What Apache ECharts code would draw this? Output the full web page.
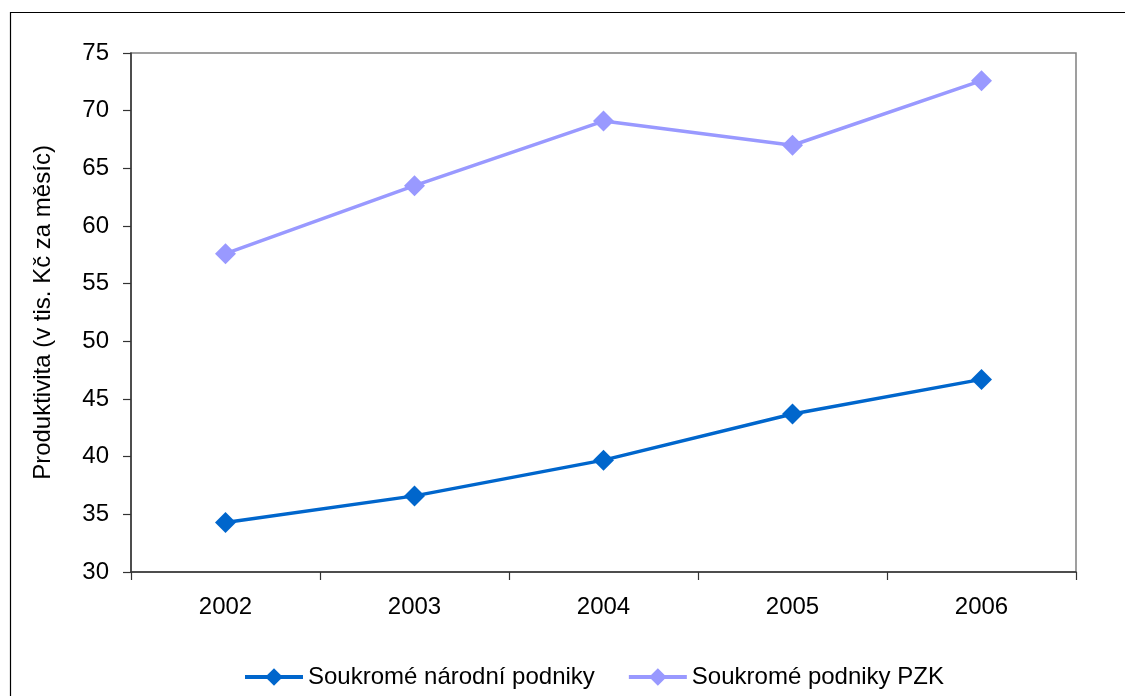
<!DOCTYPE html>
<html>
<head>
<meta charset="utf-8">
<script src="https://cdn.jsdelivr.net/npm/echarts@6/dist/echarts.min.js"></script>
<style>
  html, body { margin: 0; padding: 0; background: #fff; }
  #chart { width: 1125px; height: 696px; }
</style>
</head>
<body>
<div id="chart"></div>
<script>
// Productivity of private enterprises, thousands CZK per month
const years = ['2002', '2003', '2004', '2005', '2006'];
const narodniPodniky = [34.3, 36.6, 39.7, 43.7, 46.7];
const podnikyPZK = [57.6, 63.5, 69.1, 67.0, 72.6];
const seriesNames = ['Soukromé národní podniky', 'Soukromé podniky PZK'];
const yAxisTitle = 'Produktivita (v tis. Kč za měsíc)';

const font = 'Liberation Sans, Arial, sans-serif';
const chart = echarts.init(document.getElementById('chart'), null, { renderer: 'canvas' });

chart.setOption({
  backgroundColor: '#fff',
  animation: false,
  graphic: [{
    type: 'rect',
    shape: { x: 10.5, y: 12.5, width: 1300, height: 900 },
    style: { fill: 'none', stroke: '#000', lineWidth: 1.2 },
    silent: true,
    z: -1
  }],
  grid: {
    left: 131, top: 53, right: 49, bottom: 124,
    show: true, borderColor: '#808080', borderWidth: 1.5, backgroundColor: 'transparent'
  },
  legend: {
    top: 660, left: 238,
    itemWidth: 58, itemHeight: 22, itemGap: 32,
    lineStyle: { width: 4 },
    textStyle: { fontFamily: font, fontSize: 24, color: '#000' },
    data: seriesNames
  },
  xAxis: {
    type: 'category',
    data: years,
    boundaryGap: true,
    axisLine: { lineStyle: { color: '#333', width: 1.5 } },
    axisTick: { show: true, length: 8, lineStyle: { color: '#333', width: 1.2 } },
    axisLabel: { fontFamily: font, fontSize: 24, color: '#000', margin: 23 },
    splitLine: { show: false }
  },
  yAxis: {
    type: 'value',
    min: 30, max: 75, interval: 5,
    name: yAxisTitle,
    nameLocation: 'middle',
    nameRotate: 90,
    nameGap: 76,
    nameTextStyle: { fontFamily: font, fontSize: 24, color: '#000' },
    axisLine: { show: true, lineStyle: { color: '#333', width: 1.5 } },
    axisTick: { show: true, length: 8, lineStyle: { color: '#333', width: 1.2 } },
    axisLabel: { fontFamily: font, fontSize: 24, color: '#000', margin: 22 },
    splitLine: { show: false }
  },
  series: [
    {
      name: seriesNames[0],
      type: 'line',
      data: narodniPodniky,
      color: '#0066CC',
      symbol: 'diamond',
      symbolSize: 21,
      showAllSymbol: true,
      lineStyle: { width: 3.5, color: '#0066CC' },
      itemStyle: { color: '#0066CC' }
    },
    {
      name: seriesNames[1],
      type: 'line',
      data: podnikyPZK,
      color: '#9999FF',
      symbol: 'diamond',
      symbolSize: 21,
      showAllSymbol: true,
      lineStyle: { width: 3.5, color: '#9999FF' },
      itemStyle: { color: '#9999FF' }
    }
  ]
});
</script>
</body>
</html>
